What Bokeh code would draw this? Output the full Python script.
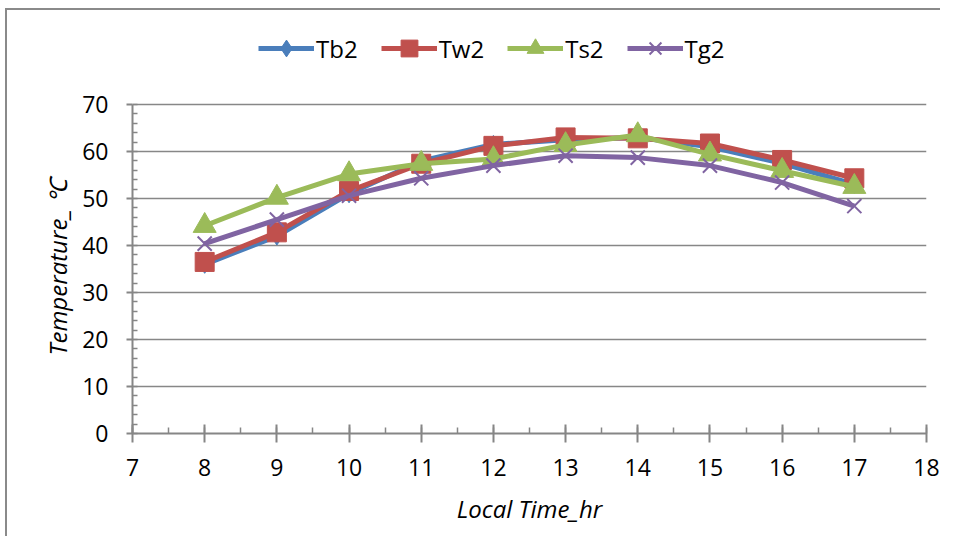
from bokeh.plotting import figure
from bokeh.models import Legend, LegendItem, SingleIntervalTicker, FixedTicker, Title
from bokeh.embed import file_html
from bokeh.resources import INLINE

# ---- data ----
hours = [8, 9, 10, 11, 12, 13, 14, 15, 16, 17]
tb2 = [36.0, 42.0, 51.0, 58.0, 61.5, 62.5, 63.0, 61.0, 57.5, 53.0]
tw2 = [36.5, 42.8, 51.6, 57.4, 61.2, 63.0, 62.8, 61.7, 58.2, 54.3]
ts2 = [44.2, 50.2, 55.2, 57.4, 58.4, 61.4, 63.5, 59.4, 55.9, 52.5]
tg2 = [40.4, 45.5, 50.6, 54.3, 57.0, 59.1, 58.7, 57.0, 53.4, 48.4]
series_names = ["Tb2", "Tw2", "Ts2", "Tg2"]
y_ticks = [0, 10, 20, 30, 40, 50, 60, 70]
x_label = "Local Time_hr"
y_label = "Temperature_ \u2103"

FONT = "Open Sans"
AX = "#868686"

# frame extends above the 70 line so the legend can sit inside it (unclipped)
FRAME_H = 413      # px, frame top .. x axis
PLOT_H = 329       # px, 0 .. 70
y_top = 70 * FRAME_H / PLOT_H

p = figure(width=935, height=528, x_range=(7, 18), y_range=(0, y_top),
           output_backend="svg", toolbar_location=None,
           min_border_left=125, min_border_right=16,
           min_border_top=10, min_border_bottom=105)
p.styles = {"border-top": "2px solid #8a8a8a", "border-left": "2px solid #8a8a8a",
            "margin-top": "8px", "margin-left": "5px"}
p.outline_line_color = None
p.background_fill_color = "white"
p.border_fill_color = "white"

p.xgrid.visible = False
p.ygrid.ticker = FixedTicker(ticks=y_ticks)
p.ygrid.grid_line_color = "#878787"
p.ygrid.grid_line_width = 1.5

p.xaxis.ticker = SingleIntervalTicker(interval=1, num_minor_ticks=2)
p.yaxis.ticker = SingleIntervalTicker(interval=10, num_minor_ticks=5)
p.yaxis.bounds = (0, 70)

for ax in (p.xaxis[0], p.yaxis[0]):
    ax.axis_line_color = AX
    ax.axis_line_width = 2
    ax.major_tick_line_color = AX
    ax.major_tick_line_width = 2
    ax.minor_tick_line_color = AX
    ax.minor_tick_line_width = 1.5
    ax.major_label_text_font = FONT
    ax.major_label_text_font_size = "23px"
    ax.major_label_text_color = "black"
    ax.axis_label_text_font = FONT
    ax.axis_label_text_font_size = "24px"
    ax.axis_label_text_font_style = "italic"
    ax.axis_label_text_color = "black"

xa = p.xaxis[0]
xa.major_tick_in = 9
xa.major_tick_out = 9
xa.minor_tick_in = 6
xa.minor_tick_out = 0
xa.major_label_standoff = 16
xa.axis_label = x_label
xa.axis_label_standoff = 13

ya = p.yaxis[0]
ya.major_tick_in = 0
ya.major_tick_out = 6
ya.minor_tick_in = 5
ya.minor_tick_out = 0
ya.major_label_standoff = 18

# y-axis title centred on the 0..70 part of the frame
ytitle = Title(text=y_label, align="left", offset=78, standoff=11,
               text_font=FONT, text_font_size="24px", text_font_style="italic",
               text_color="black")
p.add_layout(ytitle, "left")

specs = [
    (tb2, "#4A7EBB", "diamond", 18),
    (tw2, "#C0504D", "square", 19),
    (ts2, "#9BBB59", "triangle", 23),
    (tg2, "#8064A2", "x", 20),
]

items = []
for name, (vals, col, mk, sz) in zip(series_names, specs):
    rl = p.line(hours, vals, line_color=col, line_width=5, line_join="round")
    if mk == "x":
        rm = p.scatter(hours, vals, marker=mk, size=sz, line_color=col, line_width=2)
    else:
        rm = p.scatter(hours, vals, marker=mk, size=sz, fill_color=col, line_color=col)
    items.append(LegendItem(label=name, renderers=[rl, rm]))

legend = Legend(items=items, orientation="horizontal", location=(126, 364),
                glyph_width=56, glyph_height=42, label_standoff=2, spacing=23,
                padding=0, margin=0, border_line_color=None,
                background_fill_alpha=0,
                label_text_font=FONT, label_text_font_size="24px",
                label_text_color="black")
p.add_layout(legend)

open("out.html", "w").write(file_html(p, INLINE))
